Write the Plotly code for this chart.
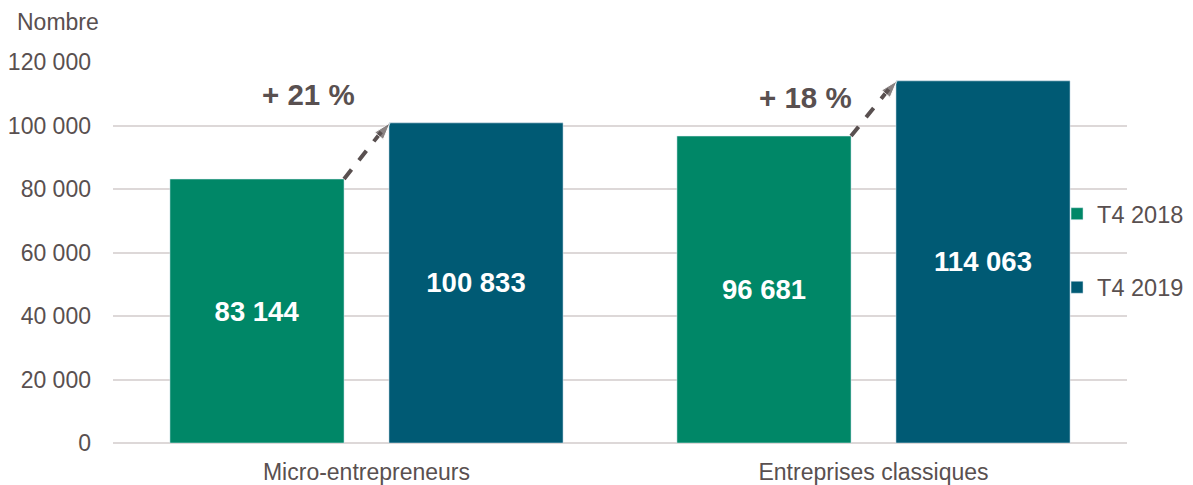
import plotly.graph_objects as go

categories = ["Micro-entrepreneurs", "Entreprises classiques"]
series_names = ["T4 2018", "T4 2019"]
values_2018 = [83144, 96681]
values_2019 = [100833, 114063]
y_ticks = [0, 20000, 40000, 60000, 80000, 100000, 120000]

GREEN = "#008767"
BLUE = "#005A74"
TXT = "#595050"
GRID = "#DDD8D8"
FONT = "Liberation Sans, Arial, sans-serif"

bargap = 0.136
bargroupgap = 0.205

def fmt(v):
    return f"{v:,}".replace(",", " ")

fig = go.Figure()
fig.add_bar(x=categories, y=values_2018, name=series_names[0], marker_color=GREEN,
            text=[fmt(v) for v in values_2018], textposition="inside",
            insidetextanchor="middle", legendgroup="a",
            textfont=dict(color="white", size=27.5, family=FONT, weight="bold"))
fig.add_bar(x=categories, y=values_2019, name=series_names[1], marker_color=BLUE,
            text=[fmt(v) for v in values_2019], textposition="inside",
            insidetextanchor="middle", legendgroup="b",
            textfont=dict(color="white", size=27.5, family=FONT, weight="bold"))

# arrows between bars
slot = (1 - bargap) / 2
half_w = slot * (1 - bargroupgap) / 2
x_start = -slot / 2 + half_w
x_end = slot / 2 - half_w
label_pos = [(-0.115, 109900), (-0.135, 108700)]
for i in range(len(categories)):
    y0, y1 = values_2018[i], values_2019[i]
    fig.add_scatter(x=[i + x_start, i + x_end * 0.9], y=[y0, y1 - 700], mode="lines",
                    line=dict(color=TXT, width=4, dash="dash"), showlegend=False,
                    hoverinfo="skip", xaxis="x2")
    fig.add_scatter(x=[i + x_end * 0.2, i + x_end * 1.05], y=[y0 + (y1 - y0) * 0.6, y1],
                    mode="markers", marker=dict(symbol="arrow", angleref="previous",
                    size=[0, 18], color=TXT), showlegend=False, hoverinfo="skip",
                    xaxis="x2")
    pct = round((y1 / y0 - 1) * 100)
    lx, ly = label_pos[i]
    fig.add_annotation(x=i + lx, y=ly, xref="x2", yref="y", text=f"+ {pct} %",
                       showarrow=False, font=dict(size=29.5, color=TXT, family=FONT,
                                                  weight="bold"))

fig.add_annotation(x=-0.0966, y=1.105, xref="paper", yref="paper", text="Nombre",
                   xanchor="left", yanchor="middle", showarrow=False,
                   font=dict(size=23, color=TXT, family=FONT))

fig.update_layout(
    width=1193, height=485,
    margin=dict(l=105, r=74, t=54, b=50, autoexpand=False),
    paper_bgcolor="white", plot_bgcolor="white",
    barmode="group", bargap=bargap, bargroupgap=bargroupgap,
    separators=", ",
    font=dict(family=FONT, color=TXT, size=23),
    legend=dict(x=0.931, xanchor="left", y=0.659, yanchor="top",
                traceorder="grouped", tracegroupgap=40, bgcolor="rgba(0,0,0,0)",
                font=dict(size=23.5, color=TXT, family=FONT), itemwidth=30),
    xaxis=dict(type="category", showgrid=False, showline=False, ticks="",
               automargin=False,
               tickfont=dict(size=23, color=TXT), ticklabelstandoff=13),
    xaxis2=dict(range=[-0.5, 1.5], overlaying="x", visible=False, fixedrange=True),
    yaxis=dict(range=[0, 120000], tickvals=y_ticks, tickformat=",d",
               automargin=False,
               showgrid=True, gridcolor=GRID, gridwidth=2, zeroline=True,
               zerolinecolor=GRID, zerolinewidth=2, showline=False,
               tickfont=dict(size=23, color=TXT), ticklabelstandoff=21),
)

fig.write_html("out.html")
